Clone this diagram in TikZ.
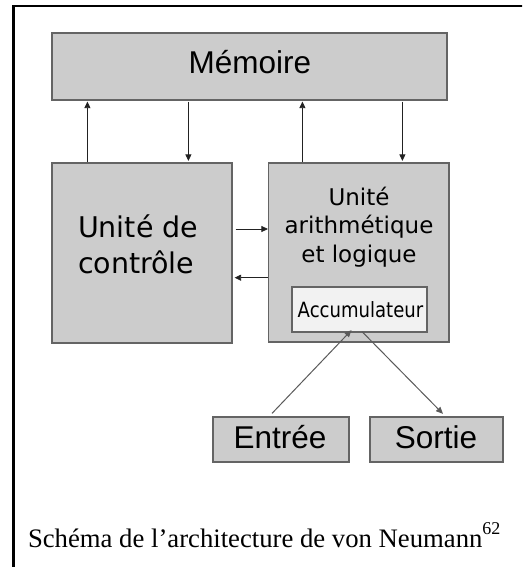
\documentclass[tikz,border=0pt]{standalone}
\usepackage{fontspec}
\usetikzlibrary{arrows.meta,calc}
\newfontfamily\serifcap{Liberation Serif}
\newfontfamily\arialish{Liberation Sans}
\newfontfamily\dvsans{DejaVu Sans}
\newfontfamily\dvnarrow[FakeStretch=0.86]{DejaVu Sans}
\definecolor{boxfill}{HTML}{CCCCCC}
\definecolor{boxline}{HTML}{646464}
\definecolor{accfill}{HTML}{F2F2F2}
\definecolor{arrline}{HTML}{222222}
\definecolor{diagline}{HTML}{5A5A5A}
\tikzset{
  unitbox/.style={draw=boxline, fill=boxfill, line width=1.2pt, inner sep=0pt},
  accbox/.style={draw=boxline, fill=accfill, line width=1.2pt, inner sep=0pt},
  flow/.style={draw=arrline, line width=0.8pt, -{Triangle[length=6.5pt,width=6pt]}},
  diagflow/.style={draw=diagline, line width=1pt, -{Triangle[length=7pt,width=6pt]}},
  frameline/.style={line width=2.5pt, black},
  plain/.style={inner sep=0pt, outer sep=0pt}
}
\begin{document}
\begin{tikzpicture}[x=1pt, y=-1pt]
\clip (0,0) rectangle (522,567);
\fill[white] (0,0) rectangle (522,567);

% page frame (left and top rules)
\draw[frameline] (13.5,580) -- (13.5,6) -- (540,6);

% units
\node[unitbox, minimum width=395pt, minimum height=67pt] (mem) at (249.5,66.5) {};
\node[unitbox, minimum width=180pt, minimum height=180pt] (ctrl) at (142,253) {};
\node[unitbox, minimum width=180.5pt, minimum height=179pt] (alu) at (358.75,252.5) {};
\node[accbox, minimum width=135pt, minimum height=45pt] (acc) at (359.5,309.5) {};
\node[unitbox, minimum width=136pt, minimum height=45pt] (ent) at (281,439.5) {};
\node[unitbox, minimum width=133pt, minimum height=45pt] (sor) at (436.5,439.5) {};

% labels
\node[plain, anchor=base, font=\arialish\fontsize{31.5}{34}\selectfont] (memtxt) at (250,74) {Mémoire};
\node[plain, anchor=north west, align=left, font=\dvsans\fontsize{28.5}{36}\selectfont] (ctrltxt) at (78,215) {Unité de\\contrôle};
\node[plain, anchor=north, align=center, font=\dvsans\fontsize{23}{28.5}\selectfont] (alutxt) at (359,187) {Unité\\arithmétique\\et logique};
\node[plain, anchor=base, font=\dvnarrow\fontsize{21}{24}\selectfont] (acctxt) at (360.5,317) {Accumulateur};
\node[plain, anchor=base, font=\arialish\fontsize{31.5}{34}\selectfont] (enttxt) at (280,448) {Entrée};
\node[plain, anchor=base, font=\arialish\fontsize{31.5}{34}\selectfont] (sortxt) at (436,448) {Sortie};

% memory links
\coordinate (cup) at ($(ctrl.north west)+(36,0)$);
\coordinate (cdn) at ($(ctrl.north west)+(137,0)$);
\coordinate (aup) at ($(alu.north west)+(34.5,0)$);
\coordinate (adn) at ($(alu.north west)+(134.5,0)$);
\draw[flow, shorten >=1pt] (cup) -- (cup |- mem.south);
\draw[flow, shorten <=1pt, shorten >=1.5pt] (cdn |- mem.south) -- (cdn);
\draw[flow, shorten >=1pt] (aup) -- (aup |- mem.south);
\draw[flow, shorten <=1pt, shorten >=1.5pt] (adn |- mem.south) -- (adn);

% control <-> ALU
\coordinate (rgt) at ($(ctrl.east)+(0,-24)$);
\coordinate (lft) at ($(ctrl.east)+(0,24.7)$);
\draw[flow, shorten <=3pt] (rgt) -- (rgt -| alu.west);
\draw[flow, shorten >=2pt] (lft -| alu.west) -- (lft);

% input / output
\coordinate (inpt) at ($(ent.north)+(-9,-3)$);
\coordinate (intip) at ($(acc.south)+(-8,-2.5)$);
\coordinate (outst) at ($(acc.south)+(2.5,-1)$);
\coordinate (outtip) at ($(sor.north)+(6.5,-2.5)$);
\draw[diagflow] (inpt) -- (intip);
\draw[diagflow] (outst) -- (outtip);

% caption
\node[plain, anchor=base west, font=\serifcap\fontsize{26.7}{30}\selectfont] (caption) at (28,547)
  {Schéma de l’architecture de von Neumann\raisebox{12.5pt}{\fontsize{18}{18}\selectfont 62}};
\end{tikzpicture}
\end{document}
